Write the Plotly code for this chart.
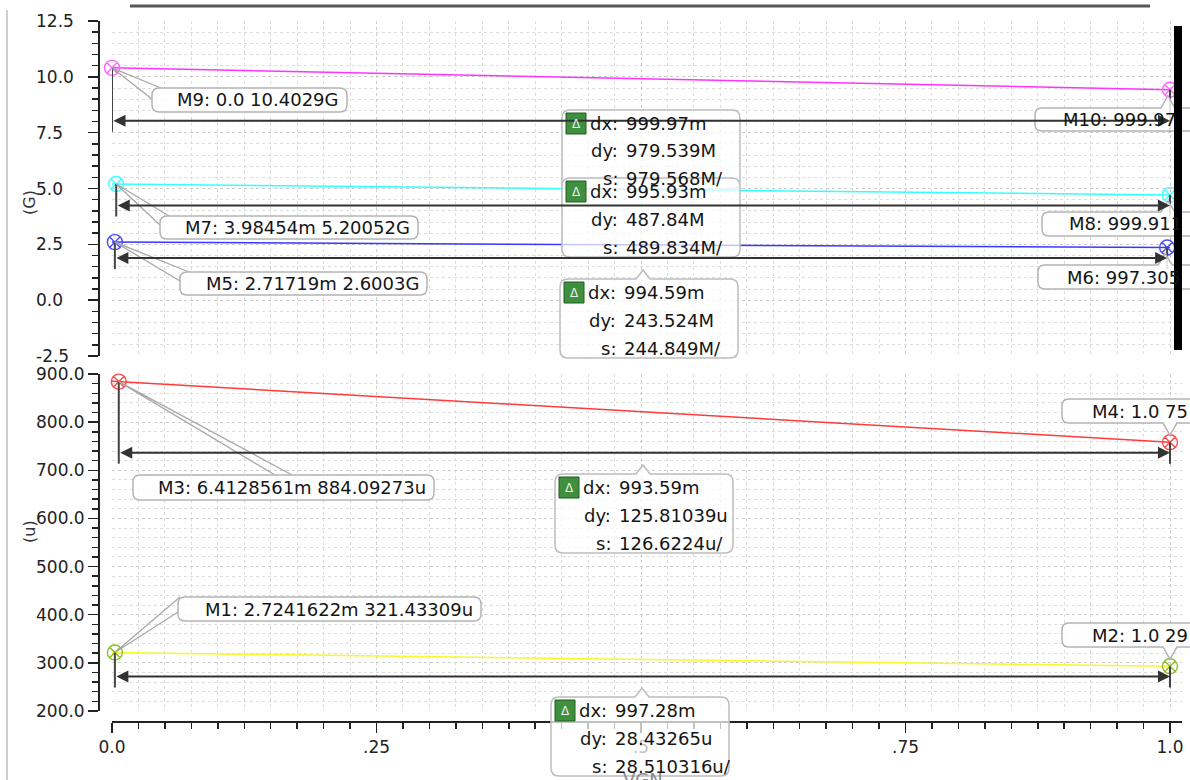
import plotly.graph_objects as go

# ---------------- data ----------------
vgn = [0.0, 0.25, 0.5, 0.75, 1.0]
pink_G = [10.4029, 10.16, 9.91, 9.67, 9.4234]
cyan_G = [5.2005, 5.08, 4.96, 4.84, 4.7127]
blue_G = [2.6003, 2.54, 2.48, 2.42, 2.3568]
red_u = [884.9, 853.0, 821.5, 790.0, 758.3]
yellow_u = [321.5, 314.4, 307.2, 300.1, 293.0]

marker_names = ["M1", "M2", "M3", "M4", "M5", "M6", "M7", "M8", "M9", "M10"]
marker_x = [0.0027241622, 1.0, 0.0064128561, 1.0, 0.00271719, 0.997305,
            0.00398454, 0.99991, 0.0, 0.99997]
marker_y = [321.43309, 293.00044, 884.09273, 758.28234, 2.6003, 2.356776,
            5.20052, 4.71268, 10.4029, 9.42336]
marker_text = ["M1: 2.7241622m 321.43309u", "M2: 1.0 29",
               "M3: 6.4128561m 884.09273u", "M4: 1.0 75",
               "M5: 2.71719m 2.6003G", "M6: 997.305",
               "M7: 3.98454m 5.20052G", "M8: 999.911",
               "M9: 0.0 10.4029G", "M10: 999.97"]

delta_dx = ["999.97m", "995.93m", "994.59m", "993.59m", "997.28m"]
delta_dy = ["979.539M", "487.84M", "243.524M", "125.81039u", "28.43265u"]
delta_s = ["979.568M/", "489.834M/", "244.849M/", "126.6224u/", "28.510316u/"]

top_ticks = [12.5, 10.0, 7.5, 5.0, 2.5, 0.0, -2.5]
bot_ticks = [900.0, 800.0, 700.0, 600.0, 500.0, 400.0, 300.0, 200.0]
x_tickvals = [0.0, 0.25, 0.5, 0.75, 1.0]
x_ticktext = ["0.0", ".25", ".5", ".75", "1.0"]

# ---------------- geometry / style ----------------
W, H = 1190, 780
FONT = "DejaVu Sans"
LABEL_SIZE = 18
TICK_SIZE = 17
X0PX, X1PX, XSCALE = 112, 1182, 1058.0
TOP_PX = (21, 356)
BOT_PX = (374, 711)
TOP_RANGE = (-2.5, 12.5)
BOT_RANGE = (200.0, 900.0)
XAXIS_LINE_PX = 722
YAXIS_LINE_PX = 99


def X(p):
    return p / W


def Y(p):
    return 1 - p / H


def x2px(v):
    return X0PX + v * XSCALE


def top2px(v):
    return TOP_PX[0] + (TOP_RANGE[1] - v) / (TOP_RANGE[1] - TOP_RANGE[0]) * (TOP_PX[1] - TOP_PX[0])


def bot2px(v):
    return BOT_PX[0] + (BOT_RANGE[1] - v) / (BOT_RANGE[1] - BOT_RANGE[0]) * (BOT_PX[1] - BOT_PX[0])


def top_from_px(p):
    return TOP_RANGE[1] - (p - TOP_PX[0]) / (TOP_PX[1] - TOP_PX[0]) * (TOP_RANGE[1] - TOP_RANGE[0])


def bot_from_px(p):
    return BOT_RANGE[1] - (p - BOT_PX[0]) / (BOT_PX[1] - BOT_PX[0]) * (BOT_RANGE[1] - BOT_RANGE[0])


def P(x, y):
    return f"{X(x):.5f},{Y(y):.5f}"


def rbox_path(x0, y0, x1, y1, r=6, top_tail=None, bottom_tail=None):
    s = f"M{P(x0 + r, y0)}"
    if top_tail:
        tx, ty = top_tail
        s += f" L{P(tx - 7, y0)} L{P(tx, ty)} L{P(tx + 7, y0)}"
    s += f" L{P(x1 - r, y0)} Q{P(x1, y0)} {P(x1, y0 + r)}"
    s += f" L{P(x1, y1 - r)} Q{P(x1, y1)} {P(x1 - r, y1)}"
    if bottom_tail:
        tx, ty = bottom_tail
        s += f" L{P(tx + 7, y1)} L{P(tx, ty)} L{P(tx - 7, y1)}"
    s += f" L{P(x0 + r, y1)} Q{P(x0, y1)} {P(x0, y1 - r)}"
    s += f" L{P(x0, y0 + r)} Q{P(x0, y0)} {P(x0 + r, y0)} Z"
    return s


series = [
    dict(y=pink_G, color="#ff33ff", top=True),
    dict(y=cyan_G, color="#33ffff", top=True),
    dict(y=blue_G, color="#3737ff", top=True),
    dict(y=red_u, color="#ff3b3b", top=False),
    dict(y=yellow_u, color="#f8f82a", top=False),
]

marker_colors = ["#8cc02a", "#8cc02a", "#ff4a4a", "#ff4a4a", "#4a4aff", "#4a4aff",
                 "#3fffff", "#3fffff", "#ff66ff", "#ff66ff"]
marker_top = [False, False, False, False, True, True, True, True, True, True]

fig = go.Figure()

for s in series:
    fig.add_trace(go.Scatter(
        x=vgn, y=s["y"], mode="lines",
        line=dict(color=s["color"], width=1.5),
        xaxis="x2" if s["top"] else "x", yaxis="y2" if s["top"] else "y",
        showlegend=False, hoverinfo="skip"))

for i in range(len(marker_names)):
    fig.add_trace(go.Scatter(
        x=[marker_x[i]], y=[marker_y[i]], mode="markers",
        marker=dict(symbol="circle-x-open", size=15, color=marker_colors[i],
                    line=dict(width=1.4, color=marker_colors[i])),
        xaxis="x2" if marker_top[i] else "x", yaxis="y2" if marker_top[i] else "y",
        cliponaxis=False, showlegend=False, hoverinfo="skip"))

shapes = []
annotations = []

# ---------- delta arrows + vertical marker lines ----------
# pairs: (start marker idx, end marker idx, arrow offset px below start marker)
pairs = [(8, 9, 53), (6, 7, 21.5), (4, 5, 16), (2, 3, 71), (0, 1, 24)]
for a, b, off in pairs:
    top = marker_top[a]
    ypx = top2px if top else bot2px
    yfrom = top_from_px if top else bot_from_px
    xr, yr = ("x2", "y2") if top else ("x", "y")
    arr_px = ypx(marker_y[a]) + off
    arr_y = yfrom(arr_px)
    end_y = yfrom(arr_px + 11)
    for m in (a, b):
        shapes.append(dict(type="line", xref=xr, yref=yr, x0=marker_x[m], x1=marker_x[m],
                           y0=marker_y[m], y1=end_y, line=dict(color="#444444", width=2),
                           layer="above"))
    annotations.append(dict(x=marker_x[b], y=arr_y, ax=marker_x[a], ay=arr_y,
                            xref=xr, yref=yr, axref=xr, ayref=yr, text="",
                            showarrow=True, arrowhead=2, arrowside="end+start",
                            arrowsize=1.2, arrowwidth=2, arrowcolor="#333333"))

# ---------- marker callout boxes ----------
BOX_FILL = "rgba(255,255,255,0.85)"
BOX_LINE = "#b4b4b4"
left_boxes = {  # idx: (L, T, R, B, wedge points)
    8: (152, 88, 347, 112, [(152, 99), (161, 88)]),
    6: (160, 216, 418, 239, [(160, 225), (169, 216)]),
    4: (180, 272, 427, 295, [(180, 281), (189, 272)]),
    2: (133, 475, 434, 500, [(275, 475), (292, 475)]),
    0: (178, 597, 481, 621, [(180, 597), (178, 612)]),
}
for idx, (L, T, R, B, wedge) in left_boxes.items():
    mx = x2px(marker_x[idx])
    my = (top2px if marker_top[idx] else bot2px)(marker_y[idx])
    (p1x, p1y), (p2x, p2y) = wedge
    shapes.append(dict(type="path", xref="paper", yref="paper",
                       path=f"M{P(p1x, p1y)} L{P(mx, my)} L{P(p2x, p2y)}",
                       line=dict(color="#a8a8a8", width=1.3), layer="above"))
    shapes.append(dict(type="path", xref="paper", yref="paper",
                       path=rbox_path(L, T, R, B, 7),
                       fillcolor=BOX_FILL, line=dict(color=BOX_LINE, width=1.5), layer="above"))
    annotations.append(dict(x=X(R - 6), y=Y((T + B) / 2), xref="paper", yref="paper",
                            text=marker_text[idx], showarrow=False, xanchor="right",
                            yanchor="middle", font=dict(family=FONT, size=LABEL_SIZE, color="#151515")))

right_boxes = {  # idx: (L, T, B, text_left, tail side)
    9: (1035, 108, 131, 1061, "top"),
    7: (1042, 212, 236, 1067, "top"),
    5: (1038, 265, 289, 1065, "top"),
    3: (1062, 399, 423, 1090, "bottom"),
    1: (1062, 623, 647, 1090, "bottom"),
}
for idx, (L, T, B, tl, side) in right_boxes.items():
    mx = x2px(marker_x[idx])
    my = (top2px if marker_top[idx] else bot2px)(marker_y[idx])
    if side == "top":
        path = rbox_path(L, T, 1215, B, 7, top_tail=(mx - 2, my + 6))
    else:
        path = rbox_path(L, T, 1215, B, 7, bottom_tail=(mx, my - 7))
    shapes.append(dict(type="path", xref="paper", yref="paper", path=path,
                       fillcolor=BOX_FILL, line=dict(color=BOX_LINE, width=1.5), layer="above"))
    annotations.append(dict(x=X(tl), y=Y((T + B) / 2), xref="paper", yref="paper",
                            text=marker_text[idx], showarrow=False, xanchor="left",
                            yanchor="middle", font=dict(family=FONT, size=LABEL_SIZE, color="#151515")))

# ---------- delta boxes ----------
delta_boxes = [  # (L, T, tail)
    (562, 110, None),
    (562, 178, None),
    (560, 279, (643, 270)),
    (555, 474, (643, 465)),
    (551, 697, (642, 688)),
]
DW, DH = 178, 79
for k, (L, T, tail) in enumerate(delta_boxes):
    shapes.append(dict(type="path", xref="paper", yref="paper",
                       path=rbox_path(L, T, L + DW, T + DH, 8, top_tail=tail),
                       fillcolor="rgba(255,255,255,0.72)",
                       line=dict(color="#bdbdbd", width=1.5), layer="above"))
    shapes.append(dict(type="rect", xref="paper", yref="paper",
                       x0=X(L + 4), x1=X(L + 24), y0=Y(T + 24), y1=Y(T + 3),
                       fillcolor="#3f8f3f", line=dict(color="#1f5f1f", width=1), layer="above"))
    annotations.append(dict(x=X(L + 14), y=Y(T + 13.5), xref="paper", yref="paper",
                            text="Δ", showarrow=False, xanchor="center", yanchor="middle",
                            font=dict(family=FONT, size=12, color="#f0f0f0")))
    rows = [("dx:", delta_dx[k]), ("dy:", delta_dy[k]), ("s:", delta_s[k])]
    for r, (lab, val) in enumerate(rows):
        yy = Y(T + 13 + r * 28)
        annotations.append(dict(x=X(L + 58), y=yy, xref="paper", yref="paper", text=lab,
                                showarrow=False, xanchor="right", yanchor="middle",
                                font=dict(family=FONT, size=LABEL_SIZE, color="#151515")))
        annotations.append(dict(x=X(L + 62), y=yy, xref="paper", yref="paper", text=val,
                                showarrow=False, xanchor="left", yanchor="middle",
                                font=dict(family=FONT, size=LABEL_SIZE, color="#151515")))

# ---------- y tick labels (left aligned as in the reference) ----------
for v in top_ticks:
    annotations.append(dict(x=X(34), y=v, xref="paper", yref="y2", text=f"{v:.1f}",
                            showarrow=False, xanchor="left", yanchor="middle",
                            font=dict(family=FONT, size=TICK_SIZE, color="#222222")))
for v in bot_ticks:
    annotations.append(dict(x=X(34), y=v, xref="paper", yref="y", text=f"{v:.1f}",
                            showarrow=False, xanchor="left", yanchor="middle",
                            font=dict(family=FONT, size=TICK_SIZE, color="#222222")))

# axis titles
annotations.append(dict(x=X(18), y=Y(188), xref="paper", yref="paper", text="(G)",
                        textangle=-90, showarrow=False,
                        font=dict(family=FONT, size=16, color="#333333")))
annotations.append(dict(x=X(18), y=Y(545), xref="paper", yref="paper", text="(u)",
                        textangle=-90, showarrow=False,
                        font=dict(family=FONT, size=16, color="#333333")))
annotations.append(dict(x=X(643), y=Y(779), xref="paper", yref="paper", text="VGN",
                        showarrow=False, xanchor="center", yanchor="middle",
                        font=dict(family=FONT, size=18, color="#8a8a8a")))

# ---------- frame decorations ----------
shapes.append(dict(type="line", xref="paper", yref="paper", x0=X(7), x1=X(7),
                   y0=Y(10), y1=Y(780), line=dict(color="#cfcfcf", width=2)))
shapes.append(dict(type="line", xref="paper", yref="paper", x0=X(130), x1=X(1150),
                   y0=Y(6), y1=Y(6), line=dict(color="#5b5652", width=3)))
shapes.append(dict(type="line", xref="paper", yref="paper", x0=X(1178), x1=X(1178),
                   y0=Y(26), y1=Y(350), line=dict(color="#000000", width=8), layer="above"))

grid = dict(showgrid=True, gridcolor="#cdcdcd", griddash="dot", gridwidth=1,
            zeroline=False, automargin=False)
MINOR_GRID = "#dcdcdc"
xrange = [0, (X1PX - X0PX) / XSCALE]
xdom = [X(X0PX), X(X1PX)]

fig.update_layout(
    width=W, height=H, autosize=False,
    margin=dict(l=0, r=0, t=0, b=0, pad=0),
    paper_bgcolor="white", plot_bgcolor="white",
    font=dict(family=FONT, size=17, color="#222222"),
    showlegend=False,
    hovermode=False,
    xaxis=dict(domain=xdom, range=xrange, anchor="free", position=Y(XAXIS_LINE_PX),
               showline=True, linecolor="#222222", linewidth=2,
               ticks="outside", ticklen=10, tickwidth=1.5, tickcolor="#222222",
               tickvals=x_tickvals, ticktext=x_ticktext,
               tickfont=dict(family=FONT, size=TICK_SIZE, color="#222222"),
               minor=dict(dtick=0.025, ticks="outside", ticklen=6, tickwidth=1.5,
                          tickcolor="#222222", showgrid=True, gridcolor=MINOR_GRID,
                          griddash="dot"),
               **grid),
    xaxis2=dict(domain=xdom, range=xrange, anchor="y2", matches="x",
                showline=False, ticks="", showticklabels=False,
                tickvals=x_tickvals,
                minor=dict(dtick=0.025, showgrid=True, gridcolor=MINOR_GRID, griddash="dot"),
                **grid),
    yaxis=dict(domain=[Y(BOT_PX[1]), Y(BOT_PX[0])], range=list(BOT_RANGE),
               anchor="free", position=X(YAXIS_LINE_PX),
               showline=True, linecolor="#222222", linewidth=2,
               ticks="outside", ticklen=10, tickwidth=1.5, tickcolor="#222222",
               dtick=100, tick0=0, showticklabels=False,
               minor=dict(dtick=20, ticks="outside", ticklen=6, tickwidth=1.5,
                          tickcolor="#222222", showgrid=True, gridcolor=MINOR_GRID,
                          griddash="dot"),
               **grid),
    yaxis2=dict(domain=[Y(TOP_PX[1]), Y(TOP_PX[0])], range=list(TOP_RANGE),
                anchor="free", position=X(YAXIS_LINE_PX),
                showline=True, linecolor="#222222", linewidth=2,
                ticks="outside", ticklen=10, tickwidth=1.5, tickcolor="#222222",
                dtick=2.5, tick0=0, showticklabels=False,
                minor=dict(dtick=0.5, ticks="outside", ticklen=6, tickwidth=1.5,
                           tickcolor="#222222", showgrid=True, gridcolor=MINOR_GRID,
                           griddash="dot"),
                **grid),
    shapes=shapes,
    annotations=annotations,
)

# remove the browser's default 8px body margin so the figure sits at the window origin
fig.write_html("out.html",
               config={"displayModeBar": False, "staticPlot": True},
               post_script="document.body.style.margin='0';document.body.style.overflow='hidden';")
